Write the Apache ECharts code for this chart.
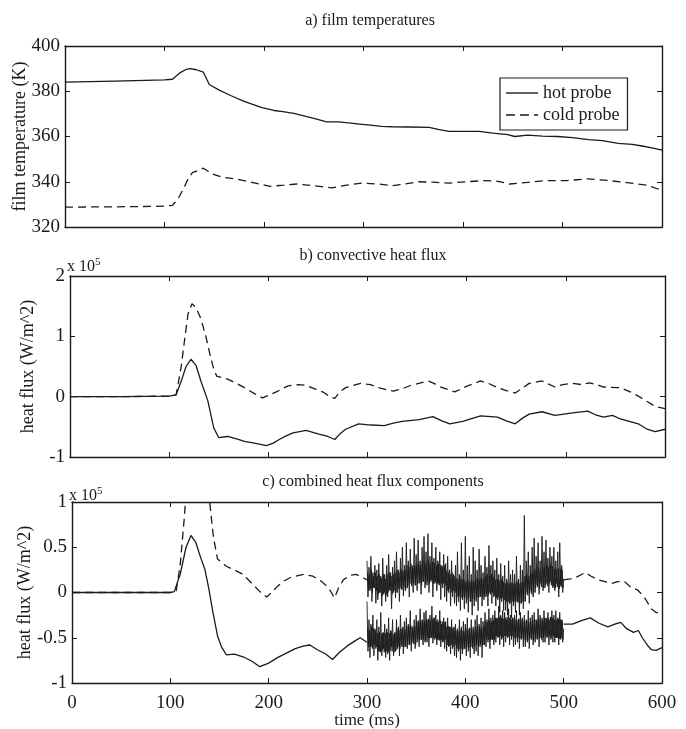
<!DOCTYPE html>
<html><head><meta charset="utf-8">
<script src="https://cdn.jsdelivr.net/npm/echarts@6/dist/echarts.min.js"></script>
<style>html,body{margin:0;padding:0;background:#fff}#c{width:686px;height:729px}</style>
</head><body><div id="c"></div>
<script>
// ---------- data (time in ms, temperature in K, heat flux in 1e5 W/m^2) ----------
const xTickValues = [0, 100, 200, 300, 400, 500, 600];
const tempTicks = [320, 340, 360, 380, 400];
const fluxTicksB = [-1, 0, 1, 2];
const fluxTicksC = [-1, -0.5, 0, 0.5, 1];

const aHot = [[0,384],[50,384.5],[100,385],[108,385.3],[115,388],[122,389.7],[126,390],[132,389.5],[139,388.5],[145,383],[155,380.5],[167,378],[180,375.5],[198,372.8],[210,371.5],[219,371],[230,370.2],[241,369],[252,367.8],[263,366.5],[275,366.5],[285,366],[296,365.5],[307,365],[318,364.5],[329,364.3],[345,364.2],[366,364],[376,363],[386,362.3],[400,362.3],[416,362.3],[430,361.5],[445,360.8],[452,360],[465,360.6],[480,360.2],[495,360],[510,359.5],[526,358.6],[540,358.2],[556,357],[570,356.5],[580,355.8],[590,355],[600,354]];
const aCold = [[0,328.8],[50,328.9],[100,329.2],[108,329.6],[113,332],[119,336.9],[124,341.5],[128,344],[134,345],[139,346],[148,343.5],[158,342],[171,341.3],[190,339.5],[206,338],[220,338.5],[233,339],[250,338.3],[268,337.3],[283,338.5],[298,339.4],[315,339],[329,338.3],[342,339],[355,340],[370,339.8],[386,339.4],[403,340],[421,340.5],[435,340.2],[447,339],[465,339.7],[482,340.5],[504,340.5],[526,341.3],[547,340.5],[569,339.4],[585,338.5],[596,336.8],[600,336.5]];

const bHot = [[0,0],[50,0],[100,0.01],[107,0.03],[112,0.25],[117,0.5],[122,0.62],[127,0.52],[132,0.26],[139,-0.07],[145,-0.52],[150,-0.68],[159,-0.66],[168,-0.7],[176,-0.74],[186,-0.77],[198,-0.81],[205,-0.77],[211,-0.71],[218,-0.65],[225,-0.6],[238,-0.56],[251,-0.62],[260,-0.66],[267,-0.71],[272,-0.62],[278,-0.54],[291,-0.45],[304,-0.47],[317,-0.48],[326,-0.44],[335,-0.41],[352,-0.38],[366,-0.33],[375,-0.4],[383,-0.45],[396,-0.41],[414,-0.32],[431,-0.34],[440,-0.4],[449,-0.45],[456,-0.36],[463,-0.29],[476,-0.25],[489,-0.31],[507,-0.27],[522,-0.24],[530,-0.3],[538,-0.34],[547,-0.31],[555,-0.37],[564,-0.41],[573,-0.45],[582,-0.54],[590,-0.58],[600,-0.54]];
const bCold = [[0,0],[50,0],[100,0.01],[107,0.03],[112,0.48],[116,1.0],[119,1.37],[123,1.54],[127,1.48],[132,1.29],[137,1.0],[141,0.71],[145,0.45],[148,0.34],[159,0.29],[168,0.22],[176,0.15],[186,0.05],[194,-0.02],[200,0.02],[207,0.07],[220,0.18],[230,0.2],[238,0.19],[248,0.12],[256,0.07],[262,0.0],[267,-0.03],[272,0.08],[278,0.15],[293,0.22],[303,0.2],[313,0.14],[326,0.09],[335,0.13],[344,0.19],[361,0.26],[367,0.22],[374,0.16],[388,0.08],[401,0.18],[414,0.26],[422,0.22],[431,0.15],[440,0.1],[449,0.06],[456,0.14],[463,0.22],[476,0.26],[489,0.16],[497,0.2],[507,0.22],[516,0.2],[524,0.23],[531,0.2],[538,0.16],[555,0.15],[565,0.08],[573,0.01],[582,-0.08],[590,-0.16],[600,-0.2]];

const cHot = [[0,0],[50,0],[100,0],[104,0.01],[110,0.2],[116,0.5],[121,0.63],[126,0.55],[131,0.38],[135,0.26],[139,0.05],[143,-0.2],[148,-0.48],[152,-0.6],[157,-0.69],[165,-0.68],[174,-0.71],[183,-0.76],[191,-0.82],[200,-0.78],[209,-0.72],[218,-0.67],[227,-0.62],[236,-0.59],[242,-0.58],[249,-0.63],[258,-0.68],[265,-0.74],[272,-0.66],[280,-0.59],[287,-0.54],[293,-0.5],[300,-0.55],[400,'-'],[500,-0.35],[509,-0.35],[518,-0.31],[527,-0.28],[536,-0.34],[545,-0.38],[552,-0.35],[558,-0.33],[564,-0.4],[571,-0.44],[576,-0.42],[580,-0.5],[585,-0.58],[589,-0.63],[594,-0.64],[600,-0.61]];
const cCold = [[0,0],[50,0],[100,0],[106,0.02],[110,0.3],[114,0.8],[116,1.1],[120,1.5],[125,1.55],[130,1.45],[135,1.25],[140,1.0],[144,0.6],[148,0.37],[157,0.29],[165,0.25],[174,0.2],[183,0.1],[191,0.01],[198,-0.05],[203,0],[209,0.07],[216,0.13],[223,0.17],[236,0.2],[245,0.18],[254,0.12],[261,0.05],[267,-0.06],[271,0.05],[276,0.14],[283,0.19],[289,0.2],[295,0.17],[300,0.14],[400,'-'],[500,0.14],[507,0.15],[513,0.17],[522,0.22],[528,0.18],[535,0.14],[542,0.12],[549,0.1],[555,0.12],[562,0.12],[568,0.06],[575,0.03],[582,-0.05],[589,-0.18],[594,-0.22],[600,-0.24]];

// noisy combined flux, 300–500 ms. "A" samples at whole ms (with spikes),
// "B" samples at half ms (dense core of the band).
const noiseStartA = 300;
const noiseStartB = 300.5;
const noiseUpperA = [
0.35,-0.05,0.28,0.02,0.4,-0.1,0.22,0.05,0.3,-0.12,
0.25,-0.08,0.32,0.0,0.18,-0.15,0.38,-0.02,0.2,-0.1,
0.3,-0.05,0.42,0.03,0.22,-0.18,0.28,0.0,0.35,-0.06,
0.45,0.0,0.25,-0.1,0.38,0.04,0.5,-0.04,0.3,0.02,
0.55,0.05,0.35,-0.05,0.48,0.1,0.3,0.0,0.6,0.08,
0.42,0.02,0.58,0.1,0.35,-0.02,0.5,0.12,0.62,0.05,
0.45,0.08,0.65,0.0,0.4,0.12,0.55,-0.05,0.38,0.1,
0.5,0.02,0.35,0.1,0.45,-0.08,0.3,0.05,0.42,-0.05,
0.32,-0.1,0.4,0.0,0.25,-0.15,0.35,-0.05,0.2,-0.12,
0.3,-0.15,0.45,-0.1,0.2,-0.2,0.55,-0.08,0.25,-0.18,
0.62,-0.12,0.3,-0.22,0.4,-0.1,0.2,-0.25,0.5,-0.15,
0.35,-0.1,0.25,-0.2,0.48,-0.05,0.3,-0.15,0.22,-0.08,
0.4,-0.05,0.28,-0.15,0.52,0.0,0.3,-0.12,0.35,-0.05,
0.25,-0.15,0.38,-0.08,0.2,-0.22,0.32,-0.1,0.18,-0.2,
0.3,-0.2,0.15,-0.25,0.35,-0.12,0.2,-0.28,0.25,-0.15,
0.2,-0.22,0.4,-0.1,0.15,-0.25,0.3,-0.12,0.25,-0.18,
0.85,-0.1,0.35,0.0,0.45,-0.12,0.3,0.02,0.5,-0.05,
0.6,0.0,0.4,0.08,0.55,-0.02,0.35,0.1,0.62,0.02,
0.45,0.05,0.58,0.1,0.38,0.0,0.5,0.12,0.4,0.05,
0.5,0.02,0.35,0.1,0.45,-0.05,0.55,0.08,0.3,0.0,
0.15];
const noiseUpperB = [
0.22,0.02,0.2,0.04,0.25,0.0,0.18,0.05,0.22,0.02,
0.18,-0.02,0.2,0.0,0.16,-0.04,0.2,0.0,0.15,-0.03,
0.2,0.0,0.22,0.02,0.18,-0.02,0.2,0.02,0.22,0.0,
0.25,0.04,0.22,0.05,0.26,0.03,0.24,0.06,0.25,0.04,
0.3,0.08,0.28,0.1,0.32,0.07,0.28,0.1,0.3,0.08,
0.3,0.1,0.32,0.12,0.3,0.08,0.33,0.12,0.32,0.1,
0.33,0.12,0.35,0.1,0.32,0.14,0.34,0.1,0.33,0.12,
0.3,0.1,0.32,0.08,0.3,0.1,0.28,0.1,0.3,0.08,
0.24,0.02,0.22,0.04,0.2,0.0,0.22,0.02,0.18,0.0,
0.16,-0.05,0.15,-0.04,0.18,-0.06,0.15,-0.05,0.14,-0.06,
0.12,-0.08,0.14,-0.06,0.12,-0.1,0.13,-0.07,0.12,-0.08,
0.15,-0.05,0.16,-0.06,0.14,-0.04,0.16,-0.05,0.15,-0.04,
0.18,-0.02,0.2,-0.03,0.18,-0.02,0.2,0.0,0.17,-0.03,
0.14,-0.06,0.15,-0.05,0.13,-0.07,0.15,-0.06,0.12,-0.08,
0.1,-0.1,0.12,-0.1,0.1,-0.12,0.11,-0.1,0.1,-0.1,
0.1,-0.1,0.12,-0.11,0.1,-0.12,0.11,-0.1,0.12,-0.1,
0.18,-0.02,0.2,-0.03,0.18,0.0,0.2,-0.02,0.22,0.0,
0.26,0.05,0.25,0.06,0.27,0.04,0.25,0.06,0.28,0.05,
0.28,0.08,0.3,0.07,0.28,0.1,0.3,0.08,0.29,0.07,
0.26,0.05,0.25,0.06,0.27,0.04,0.26,0.06,0.25,0.05];
const noiseLowerA = [
-0.1,-0.65,-0.3,-0.72,-0.35,-0.6,-0.25,-0.7,-0.4,-0.62,
-0.3,-0.75,-0.38,-0.65,-0.22,-0.7,-0.45,-0.62,-0.35,-0.72,
-0.4,-0.68,-0.28,-0.75,-0.42,-0.6,-0.3,-0.7,-0.45,-0.65,
-0.3,-0.62,-0.38,-0.7,-0.25,-0.58,-0.4,-0.68,-0.32,-0.6,
-0.28,-0.62,-0.35,-0.58,-0.2,-0.65,-0.38,-0.55,-0.3,-0.62,
-0.25,-0.55,-0.32,-0.6,-0.18,-0.52,-0.3,-0.58,-0.22,-0.55,
-0.2,-0.55,-0.3,-0.6,-0.25,-0.5,-0.15,-0.56,-0.28,-0.52,
-0.25,-0.58,-0.3,-0.52,-0.2,-0.6,-0.35,-0.55,-0.28,-0.62,
-0.32,-0.65,-0.28,-0.6,-0.38,-0.68,-0.3,-0.62,-0.4,-0.7,
-0.35,-0.72,-0.4,-0.65,-0.3,-0.75,-0.38,-0.68,-0.32,-0.62,
-0.35,-0.7,-0.28,-0.65,-0.4,-0.72,-0.3,-0.6,-0.38,-0.68,
-0.3,-0.65,-0.25,-0.7,-0.35,-0.6,-0.28,-0.72,-0.32,-0.58,
-0.22,-0.6,-0.3,-0.55,-0.18,-0.62,-0.28,-0.52,-0.25,-0.58,
-0.2,-0.55,-0.28,-0.5,-0.15,-0.58,-0.25,-0.52,-0.2,-0.6,
-0.22,-0.55,-0.3,-0.5,-0.18,-0.58,-0.25,-0.52,-0.28,-0.6,
-0.25,-0.58,-0.2,-0.55,-0.3,-0.62,-0.22,-0.52,-0.28,-0.6,
-0.25,-0.6,-0.3,-0.55,-0.2,-0.62,-0.28,-0.5,-0.25,-0.58,
-0.22,-0.55,-0.3,-0.52,-0.18,-0.6,-0.25,-0.5,-0.28,-0.55,
-0.2,-0.55,-0.28,-0.5,-0.22,-0.58,-0.3,-0.52,-0.2,-0.55,
-0.25,-0.55,-0.2,-0.5,-0.28,-0.58,-0.22,-0.52,-0.3,-0.55,
-0.4];
const noiseLowerB = [
-0.4,-0.6,-0.42,-0.6,-0.38,-0.62,-0.4,-0.58,-0.42,-0.6,
-0.45,-0.65,-0.44,-0.66,-0.46,-0.64,-0.44,-0.66,-0.45,-0.65,
-0.44,-0.66,-0.45,-0.64,-0.43,-0.65,-0.46,-0.66,-0.44,-0.64,
-0.4,-0.6,-0.42,-0.62,-0.4,-0.6,-0.38,-0.6,-0.41,-0.6,
-0.37,-0.57,-0.38,-0.58,-0.36,-0.56,-0.38,-0.57,-0.37,-0.58,
-0.32,-0.52,-0.31,-0.53,-0.33,-0.52,-0.31,-0.52,-0.32,-0.53,
-0.3,-0.5,-0.29,-0.51,-0.31,-0.5,-0.3,-0.5,-0.28,-0.5,
-0.32,-0.52,-0.33,-0.53,-0.31,-0.52,-0.32,-0.54,-0.33,-0.52,
-0.38,-0.58,-0.37,-0.59,-0.38,-0.58,-0.39,-0.6,-0.38,-0.58,
-0.42,-0.62,-0.43,-0.63,-0.41,-0.62,-0.42,-0.63,-0.43,-0.62,
-0.4,-0.6,-0.41,-0.61,-0.39,-0.6,-0.4,-0.62,-0.41,-0.6,
-0.38,-0.58,-0.37,-0.59,-0.38,-0.57,-0.39,-0.58,-0.37,-0.58,
-0.32,-0.52,-0.33,-0.52,-0.31,-0.53,-0.32,-0.52,-0.31,-0.52,
-0.28,-0.48,-0.29,-0.49,-0.27,-0.48,-0.28,-0.5,-0.29,-0.48,
-0.28,-0.48,-0.27,-0.49,-0.28,-0.48,-0.29,-0.48,-0.28,-0.5,
-0.3,-0.5,-0.31,-0.5,-0.29,-0.51,-0.3,-0.5,-0.31,-0.52,
-0.32,-0.52,-0.31,-0.53,-0.33,-0.52,-0.32,-0.52,-0.31,-0.53,
-0.3,-0.5,-0.31,-0.51,-0.29,-0.5,-0.3,-0.52,-0.31,-0.5,
-0.28,-0.48,-0.29,-0.49,-0.28,-0.48,-0.27,-0.5,-0.28,-0.48,
-0.3,-0.5,-0.31,-0.5,-0.29,-0.51,-0.3,-0.5,-0.31,-0.52];

// ---------- chart ----------
const FONT = '"Liberation Serif", "DejaVu Serif", serif';
const INK = '#1a1a1a';
const chart = echarts.init(document.getElementById('c'), null, {renderer: 'canvas'});

const grids = [
  {left: 65, right: 24, top: 46, height: 181, outerBoundsMode: 'none', containLabel: false},
  {left: 70, right: 21, top: 276, height: 181, outerBoundsMode: 'none', containLabel: false},
  {left: 72, right: 24, top: 502, height: 181, outerBoundsMode: 'none', containLabel: false}
];

function xAxes(gi, showLabels) {
  const common = {
    type: 'value', gridIndex: gi, min: 0, max: 600, interval: 100,
    axisLine: {show: true, onZero: false, lineStyle: {color: INK, width: 1.4}},
    axisTick: {show: true, inside: true, length: 5, lineStyle: {color: INK, width: 1}},
    splitLine: {show: false}
  };
  return [
    Object.assign({}, common, {position: 'bottom',
      axisLabel: {show: showLabels, color: INK, fontFamily: FONT, fontSize: 19, margin: 11},
      name: showLabels ? 'time (ms)' : '', nameLocation: 'middle', nameGap: 29, nameMoveOverlap: false,
      nameTextStyle: {color: INK, fontFamily: FONT, fontSize: 17}}),
    Object.assign({}, common, {position: 'top', axisLabel: {show: false}})
  ];
}
function yAxes(gi, min, max, interval, name, gap) {
  const common = {
    type: 'value', gridIndex: gi, min: min, max: max, interval: interval,
    axisLine: {show: true, onZero: false, lineStyle: {color: INK, width: 1.4}},
    axisTick: {show: true, inside: true, length: 5, lineStyle: {color: INK, width: 1}},
    splitLine: {show: false}
  };
  return [
    Object.assign({}, common, {position: 'left',
      axisLabel: {show: true, color: INK, fontFamily: FONT, fontSize: 19, margin: 5},
      name: name, nameLocation: 'middle', nameGap: gap, nameMoveOverlap: false,
      nameTextStyle: {color: INK, fontFamily: FONT, fontSize: 18}}),
    Object.assign({}, common, {position: 'right', axisLabel: {show: false}})
  ];
}

const xAxis = [].concat(xAxes(0, false), xAxes(1, false), xAxes(2, true));
const yAxis = [].concat(
  yAxes(0, 320, 400, 20, 'film temperature (K)', 36),
  yAxes(1, -1, 2, 1, 'heat flux (W/m^2)', 33),
  yAxes(2, -1, 1, 0.5, 'heat flux (W/m^2)', 38)
);

function line(name, data, xi, yi, dashed, width) {
  return {
    name: name, type: 'line', xAxisIndex: xi, yAxisIndex: yi, data: data,
    symbol: 'none', showSymbol: false, smooth: false, animation: false,
    connectNulls: false, clip: true,
    lineStyle: {color: INK, width: width || 1.3, type: dashed ? [8, 5] : 'solid'},
    itemStyle: {color: INK}
  };
}

const pairs = (arr, start, step) => arr.map((v, i) => [start + i * step, v]);

const series = [
  line('hot probe', aHot, 0, 0, false),
  line('cold probe', aCold, 0, 0, true),
  line('hot b', bHot, 2, 2, false),
  line('cold b', bCold, 2, 2, true),
  line('hot c', cHot, 4, 4, false),
  line('cold c', cCold, 4, 4, true),
  line('combined upper A', pairs(noiseUpperA, noiseStartA, 1), 4, 4, false, 0.9),
  line('combined upper B', pairs(noiseUpperB, noiseStartB, 1), 4, 4, false, 0.9),
  line('combined lower A', pairs(noiseLowerA, noiseStartA, 1), 4, 4, false, 0.9),
  line('combined lower B', pairs(noiseLowerB, noiseStartB, 1), 4, 4, false, 0.9)
];

const titleStyle = {color: INK, fontFamily: FONT, fontSize: 16, fontWeight: 'normal'};
const expRich = {
  b: {fontFamily: FONT, fontSize: 16, color: INK, fontWeight: 'normal'},
  s: {fontFamily: FONT, fontSize: 11, color: INK, fontWeight: 'normal', verticalAlign: 'top', padding: [0, 0, 8, 0]}
};

chart.setOption({
  backgroundColor: '#fff',
  animation: false,
  title: [
    {text: 'a) film temperatures', left: 365, top: 8, textAlign: 'center', textStyle: titleStyle},
    {text: 'b) convective heat flux', left: 368, top: 243, textAlign: 'center', textStyle: titleStyle},
    {text: 'c) combined heat flux components', left: 368, top: 469, textAlign: 'center', textStyle: titleStyle},
    {text: '{b|x 10}{s|5}', left: 62, top: 252, textStyle: {fontWeight: 'normal', rich: expRich}},
    {text: '{b|x 10}{s|5}', left: 64, top: 481, textStyle: {fontWeight: 'normal', rich: expRich}}
  ],
  legend: {
    data: [
      {name: 'hot probe', icon: 'path://M0,0H32V1.4H0Z'},
      {name: 'cold probe', icon: 'path://M0,0H9V1.4H0Z M14,0H23V1.4H14Z M28,0H32V1.4H28Z'}
    ],
    left: 500, top: 78, orient: 'vertical',
    itemWidth: 32, itemHeight: 1.4, itemGap: 4,
    padding: [6, 8, 6, 6],
    borderColor: INK, borderWidth: 1.2, backgroundColor: '#fff',
    itemStyle: {color: INK, borderWidth: 0},
    textStyle: {color: INK, fontFamily: FONT, fontSize: 18, lineHeight: 18},
    selectedMode: false
  },
  grid: grids,
  xAxis: xAxis,
  yAxis: yAxis,
  series: series
});
</script>
</body></html>
